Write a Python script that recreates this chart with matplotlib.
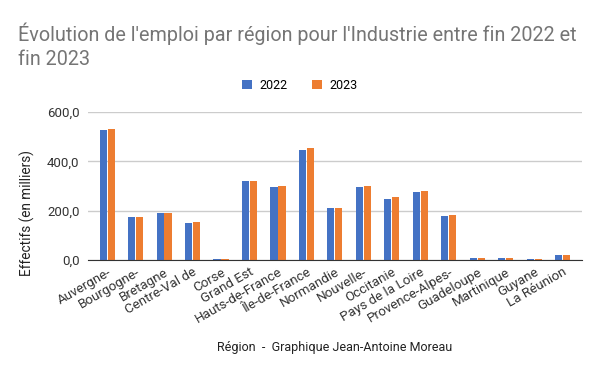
import matplotlib
matplotlib.use("Agg")
import matplotlib.pyplot as plt
import numpy as np

regions = ["Auvergne-", "Bourgogne-", "Bretagne", "Centre-Val de", "Corse", "Grand Est",
           "Hauts-de-France", "Île-de-France", "Normandie", "Nouvelle-", "Occitanie",
           "Pays de la Loire", "Provence-Alpes-", "Guadeloupe", "Martinique", "Guyane",
           "La Réunion"]
emploi_2022 = [528, 175, 191, 150, 4, 321, 296, 447, 211, 296, 248, 276, 179, 8, 8, 4, 20]
emploi_2023 = [532, 175, 191, 154, 4, 321, 300, 455, 211, 300, 256, 280, 183, 8, 8, 4, 21]
yticks = [0, 200, 400, 600]

plt.rcParams['font.family'] = ['Roboto', 'DejaVu Sans']

fig = plt.figure(figsize=(6, 3.71), dpi=100)
ax = fig.add_axes([0.1467, 0.299, 0.823, 0.399])

x = np.arange(len(regions))
w = 0.25
ax.bar(x - 0.14, emploi_2022, w, color="#4472C4", label="2022", zorder=3)
ax.bar(x + 0.14, emploi_2023, w, color="#ED7D31", label="2023", zorder=3)

ax.set_ylim(0, 600)
ax.set_xlim(-0.67, len(regions) - 0.33)
ax.set_yticks(yticks)
ax.set_yticklabels([f"{v:.1f}".replace(".", ",") for v in yticks], fontsize=9.5, color="#333333")
ax.grid(axis="y", color="#cccccc", linewidth=1, zorder=0)
for s in ["top", "right", "left"]:
    ax.spines[s].set_visible(False)
ax.spines["bottom"].set_color("#333333")
ax.spines["bottom"].set_zorder(4)
ax.tick_params(axis="both", length=0, pad=6)

ax.set_xticks(x)
ax.set_xticklabels(regions, rotation=30, ha="right", rotation_mode="anchor", fontsize=9.6, color="#333333")
ax.tick_params(axis="x", pad=4)

fig.text(0.045, 0.425, "Effectifs (en milliers)", rotation=90, ha="center", va="center",
         fontsize=9.8, color="#222222")
fig.text(0.557, 0.055, "Région  -  Graphique Jean-Antoine Moreau", ha="center", fontsize=9, color="#222222")

fig.text(0.03, 0.815, "Évolution de l'emploi par région pour l'Industrie entre fin 2022 et\nfin 2023",
         fontsize=14.2, color="#757575", ha="left", va="bottom", linespacing=1.3)

fig.legend(loc="center", bbox_to_anchor=(0.5, 0.77), ncol=2, frameon=False, fontsize=9,
           handlelength=0.8, handleheight=0.8, columnspacing=2.0, handletextpad=0.6)

fig.savefig("out.png", dpi=100)
